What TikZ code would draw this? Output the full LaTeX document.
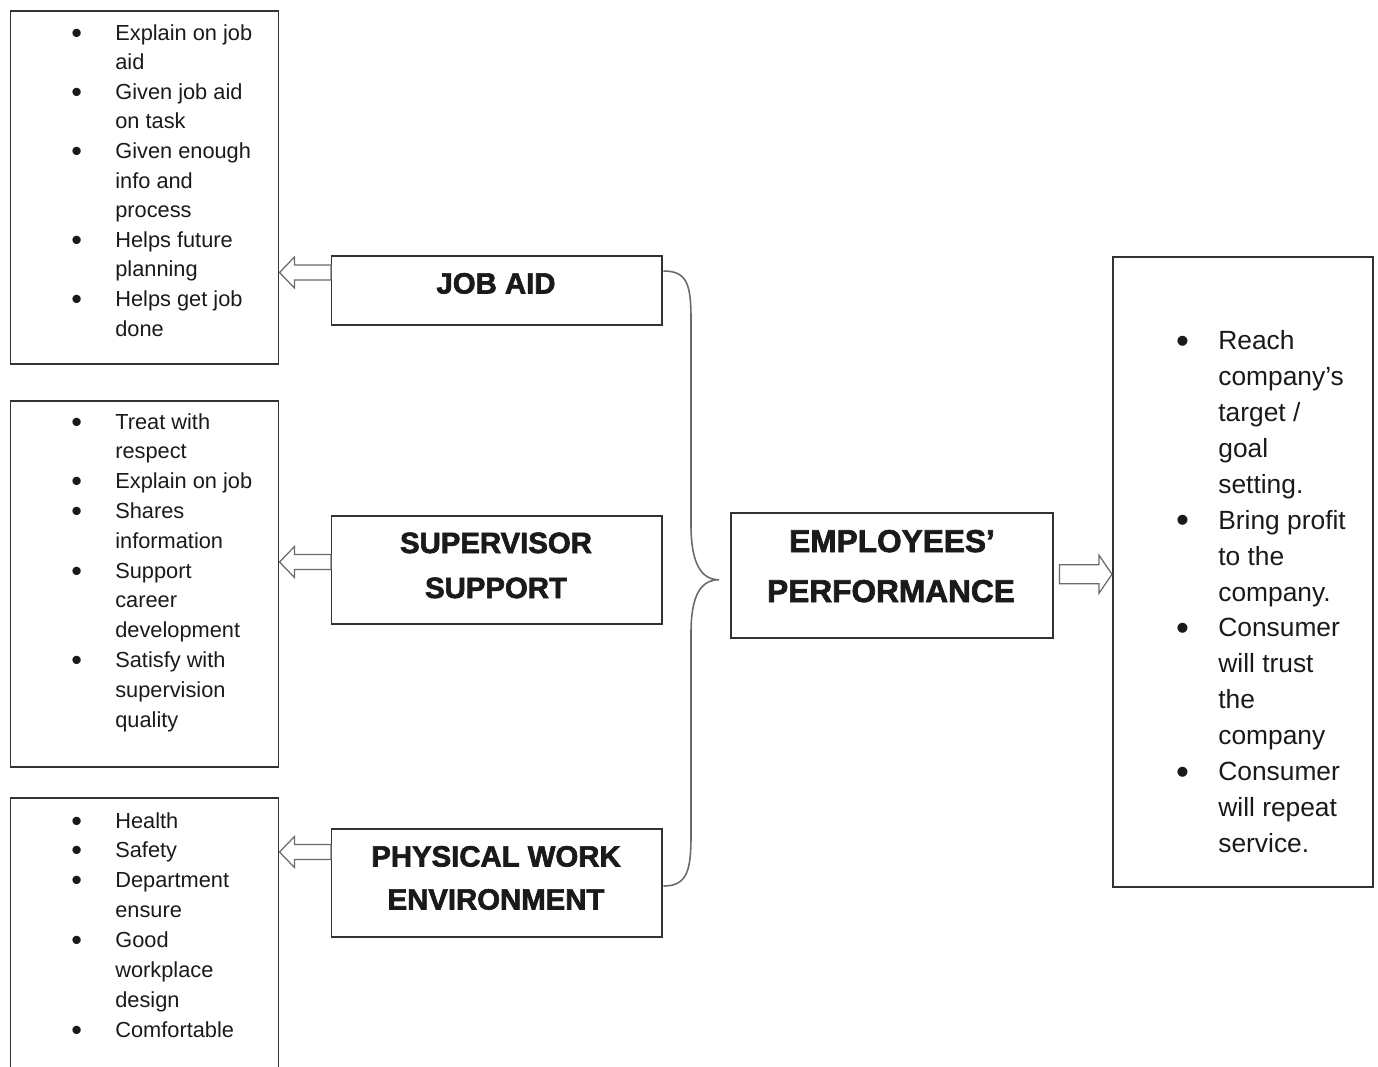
\documentclass[tikz,border=0pt]{standalone}
\usepackage{fontspec}
\setmainfont{Liberation Sans}
\newfontfamily\hdr{Liberation Sans Bold}[FakeBold=2.2]
\usetikzlibrary{calc}
\definecolor{linec}{HTML}{333333}
\definecolor{arrc}{HTML}{6A6A6A}
\definecolor{txt}{HTML}{1A1A1A}
\def\px{0.02cm}
\newcommand\bul[1]{\llap{\raisebox{-0.14em}{\scalebox{1.4}{\textbullet}}\hspace{#1}}}
\begin{document}
\begin{tikzpicture}[x=0.02cm,y=-0.02cm,
  box/.style={draw=linec, line width=0.85pt, inner sep=0, anchor=north west},
  itemL/.style={anchor=base west, inner sep=0, text=txt, font=\fontsize{12.4}{15}\selectfont},
  itemR/.style={anchor=base west, inner sep=0, text=txt, font=\fontsize{15}{18}\selectfont},
  head/.style={anchor=base, inner sep=0, text=txt, font=\hdr\fontsize{16.7}{20}\selectfont},
  headE/.style={anchor=base, inner sep=0, text=txt, font=\hdr\fontsize{18}{22}\selectfont},
  harrow/.style={draw=arrc, line width=0.7pt, fill=white, line join=miter},
  bracec/.style={draw=arrc, line width=0.9pt}]
\useasboundingbox (0,0) rectangle (1378,1066);

% boxes
\node[box, minimum width=268*\px, minimum height=353*\px] (b1) at (10,10) {};
\node[box, minimum width=268*\px, minimum height=366*\px] (b2) at (10,400) {};
\node[box, minimum width=268*\px, minimum height=320*\px] (b3) at (10,797) {};
\node[box, minimum width=330*\px, minimum height=69*\px] (jobaid) at (331,255) {};
\node[box, minimum width=330*\px, minimum height=108*\px] (sup) at (331,515) {};
\node[box, minimum width=330*\px, minimum height=108*\px] (phys) at (331,828) {};
\node[box, minimum width=322*\px, minimum height=125*\px] (emp) at (730,512) {};
\node[box, minimum width=260*\px, minimum height=630*\px] (res) at (1112,256) {};

% headings
\node[head] (t1) at (496,293.5) {JOB AID};
\node[head] (t2a) at (496,553) {SUPERVISOR};
\node[head] (t2b) at (496,598) {SUPPORT};
\node[head] (t3a) at (496,866.5) {PHYSICAL WORK};
\node[head] (t3b) at (496,909.5) {ENVIRONMENT};
\node[headE] (t4a) at (892,552) {EMPLOYEES’};
\node[headE] (t4b) at (891,602) {PERFORMANCE};

% lists
\foreach \k/\t [count=\i] in {b/Explain on job, n/aid, b/Given job aid, n/on task, b/Given enough, n/info and, n/process, b/Helps future, n/planning, b/Helps get job, n/done}
  \node[itemL] (la\i) at (115,{40+29.6*(\i-1)}) {\if b\k\bul{19pt}\fi\t};
\foreach \k/\t [count=\i] in {b/Treat with, n/respect, b/Explain on job, b/Shares, n/information, b/Support, n/career, n/development, b/Satisfy with, n/supervision, n/quality}
  \node[itemL] (lb\i) at (115,{429+29.8*(\i-1)}) {\if b\k\bul{19pt}\fi\t};
\foreach \k/\t [count=\i] in {b/Health, b/Safety, b/Department, n/ensure, b/Good, n/workplace, n/design, b/Comfortable}
  \node[itemL] (lc\i) at (115,{828+29.9*(\i-1)}) {\if b\k\bul{19pt}\fi\t};
\foreach \k/\t [count=\i] in {b/Reach, n/company’s, n/{target /}, n/goal, n/setting., b/Bring profit, n/to the, n/company., b/Consumer, n/will trust, n/the, n/company, b/Consumer, n/will repeat, n/service.}
  \node[itemR] (ld\i) at (1218,{349.5+35.93*(\i-1)}) {\if b\k\bul{16.75pt}\fi\t};

% hollow arrows to the left
\coordinate (a1s) at ($(jobaid.north west)+(0,17.5)$);
\coordinate (a2s) at ($(sup.north west)+(0,47)$);
\coordinate (a3s) at ($(phys.north west)+(0,24)$);
\foreach \s/\e in {a1s/b1, a2s/b2, a3s/b3}
  \draw[harrow] let \p1=(\s), \p2=(\e.east) in
    (\x1,\y1+4.25pt) -- (\x2+8.5pt,\y1+4.25pt) -- (\x2+8.5pt,\y1+8.8pt) -- (\x2,\y1)
    -- (\x2+8.5pt,\y1-8.8pt) -- (\x2+8.5pt,\y1-4.25pt) -- (\x1,\y1-4.25pt) -- cycle;

% hollow arrow to the right
\coordinate (a4s) at ($(emp.east)+(6,-1)$);
\draw[harrow] let \p1=(a4s), \p2=(res.west) in
    (\x1,\y1+5.4pt) -- (\x2-7.4pt,\y1+5.4pt) -- (\x2-7.4pt,\y1+10.8pt) -- (\x2,\y1)
    -- (\x2-7.4pt,\y1-10.8pt) -- (\x2-7.4pt,\y1-5.4pt) -- (\x1,\y1-5.4pt) -- cycle;

% brace
\coordinate (bt) at ($(jobaid.north east)+(1,16)$);
\coordinate (bb) at ($(phys.north east)+(1,58)$);
\coordinate (bm) at ($(emp.west)+(-11,4.5)$);
\draw[bracec] (bt) .. controls +(24,0) and +(0,-35) .. (691,320) -- (691,525)
  .. controls +(0,38) and +(-18,0) .. (bm)
  .. controls +(-18,0) and +(0,-38) .. (691,633) -- (691,835)
  .. controls +(0,35) and +(24,0) .. (bb);
\end{tikzpicture}
\end{document}
